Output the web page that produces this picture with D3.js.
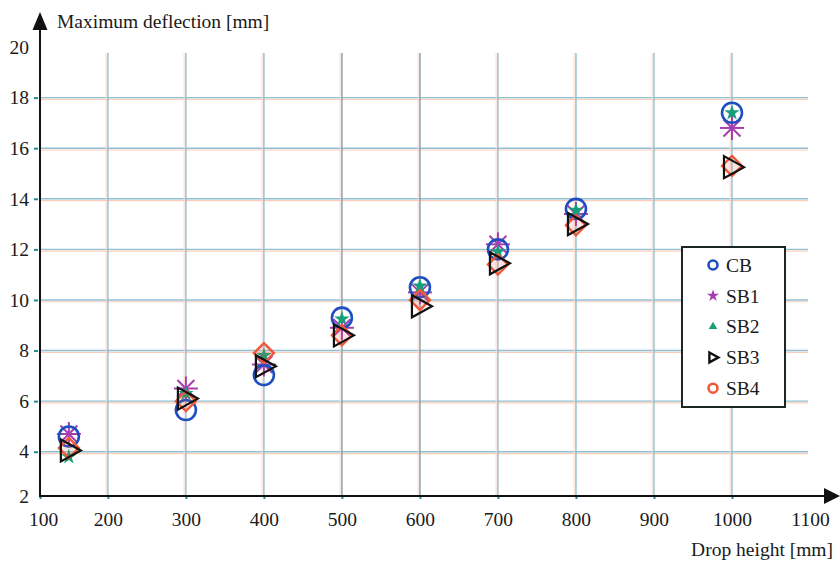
<!DOCTYPE html>
<html>
<head>
<meta charset="utf-8">
<script src="https://cdn.jsdelivr.net/npm/d3@7"></script>
<style>
  html, body { margin: 0; padding: 0; background: #fff; }
  svg { display: block; }
  text { font-family: "Liberation Serif", "Times New Roman", serif; fill: #1a1a1a; }
</style>
</head>
<body>
<svg id="chart" width="840" height="561"></svg>
<script>
// ---- data ----
const dropHeights = [150, 300, 400, 500, 600, 700, 800, 1000];
const seriesNames = ["CB", "SB1", "SB2", "SB3", "SB4"];
const CB  = [4.6, 5.65, 7.03, 9.3, 10.5, 12.0, 13.6, 17.4];
const SB1 = [4.7, 6.5, 7.45, 8.9, 10.3, 12.2, 13.4, 16.8];
const SB2 = [3.8, 6.3, 7.8, 9.25, 10.55, 11.9, 13.55, 17.4];
const SB3 = [4.05, 6.1, 7.38, 8.6, 9.75, 11.45, 13.0, 15.25];
const SB4 = [4.15, 6.0, 7.9, 8.6, 10.0, 11.4, 12.95, 15.3];
const xTicks = [100, 200, 300, 400, 500, 600, 700, 800, 900, 1000, 1100];
const yTicks = [2, 4, 6, 8, 10, 12, 14, 16, 18, 20];
const xGrid = [200, 300, 400, 500, 600, 700, 800, 900, 1000];
const yGrid = [4, 6, 8, 10, 12, 14, 16, 18];
const xLabel = "Drop height [mm]";
const yLabel = "Maximum deflection [mm]";

const valuesBy = { CB, SB1, SB2, SB3, SB4 };
const colors = { CB: "#1f4fbf", SB1: "#a63fae", SB2: "#16a07a", SB3: "#111111", SB4: "#f0583a" };

const svg = d3.select("#chart");
const x0 = 40, y0 = 496;
const xs = d3.scaleLinear().domain([113, 1100]).range([x0, 810]).clamp(true);
const ys = d3.scaleLinear().domain([2.25, 20]).range([y0, 47]).clamp(true);

// ---- grid ----
const grid = svg.append("g");
yGrid.forEach(v => {
  grid.append("line").attr("x1", x0).attr("x2", 808)
    .attr("y1", ys(v) + 1.8).attr("y2", ys(v) + 1.8)
    .attr("stroke", "#f9cdbb").attr("stroke-width", 1.2);
  grid.append("line").attr("x1", x0).attr("x2", 808)
    .attr("y1", ys(v)).attr("y2", ys(v))
    .attr("stroke", "#8fbfd0").attr("stroke-width", 1.4);
});
xGrid.forEach(v => {
  grid.append("line").attr("x1", xs(v) - 1.8).attr("x2", xs(v) - 1.8)
    .attr("y1", y0).attr("y2", 53)
    .attr("stroke", "#fbd9cc").attr("stroke-width", 1);
  grid.append("line").attr("x1", xs(v)).attr("x2", xs(v))
    .attr("y1", y0).attr("y2", 53)
    .attr("stroke", (v === 500 || v === 600) ? "#7f9eab" : "#8fbfd0").attr("stroke-width", 1.4);
});

// ---- axes ----
const xAxis = d3.axisBottom(xs).tickValues(xTicks).tickSize(3).tickPadding(13).tickFormat(d3.format("d"));
const yAxis = d3.axisLeft(ys).tickValues(yTicks).tickSize(4).tickPadding(7).tickFormat(d3.format("d"));

const gx = svg.append("g").attr("transform", `translate(0,${y0})`).call(xAxis);
const gy = svg.append("g").attr("transform", `translate(${x0},0)`).call(yAxis);
[gx, gy].forEach(g => {
  g.select(".domain").remove();
  g.selectAll(".tick line").attr("stroke", "#1f8a9a").attr("stroke-width", 2);
  g.selectAll(".tick text").style("font-family", "Liberation Serif, serif")
    .style("font-size", "19.5px").attr("fill", "#1a1a1a");
});
gx.selectAll(".tick").filter(d => d === 100).select("text").attr("x", 3);
gx.selectAll(".tick").filter(d => d === 1100).select("line").remove();
gy.selectAll(".tick").filter(d => d === 20 || d === 2).select("line").remove();
gy.selectAll(".tick line").attr("transform", "translate(-2,0)");

// axis lines with arrows
svg.append("line").attr("x1", x0).attr("x2", 826).attr("y1", y0).attr("y2", y0)
  .attr("stroke", "#111").attr("stroke-width", 2);
svg.append("line").attr("x1", x0).attr("x2", x0).attr("y1", y0 + 1).attr("y2", 28)
  .attr("stroke", "#111").attr("stroke-width", 2);
svg.append("path").attr("d", "M840,496 L824,488 L824,504 Z").attr("fill", "#111");
svg.append("path").attr("d", "M40,12 L32.5,30 L47.5,30 Z").attr("fill", "#111");

// axis titles
svg.append("text").attr("x", 57).attr("y", 28).style("font-size", "19.5px").text(yLabel);
svg.append("text").attr("x", 833).attr("y", 556).attr("text-anchor", "end").style("font-size", "19.5px").text(xLabel);

// ---- markers ----
function drawMarker(g, name, cx, cy, big) {
  const s = big ? 1 : 0.45;
  const c = colors[name];
  if (name === "CB") {
    g.append("circle").attr("cx", cx).attr("cy", cy).attr("r", big ? 10 : 4.5)
      .attr("fill", "none").attr("stroke", c).attr("stroke-width", big ? 2.6 : 2.6);
  } else if (name === "SB1") {
    if (big) {
      const r = 12;
      for (let k = 0; k < 4; k++) {
        const a = k * Math.PI / 4;
        g.append("line").attr("x1", cx - r * Math.cos(a)).attr("y1", cy - r * Math.sin(a))
          .attr("x2", cx + r * Math.cos(a)).attr("y2", cy + r * Math.sin(a))
          .attr("stroke", c).attr("stroke-width", 2);
      }
    } else {
      g.append("path").attr("transform", `translate(${cx},${cy})`)
        .attr("d", d3.symbol(d3.symbolStar, 45)()).attr("fill", c);
    }
  } else if (name === "SB2") {
    g.append("path").attr("transform", `translate(${cx},${cy})`)
      .attr("d", big ? d3.symbol(d3.symbolStar, 75)() : d3.symbol(d3.symbolTriangle, 32)())
      .attr("fill", c);
  } else if (name === "SB3") {
    const w = 20 * s, h = 22 * s;
    g.append("path")
      .attr("d", `M${cx - w * 0.4},${cy - h / 2} L${cx + w * 0.6},${cy} L${cx - w * 0.4},${cy + h / 2} Z`)
      .attr("fill", "none").attr("stroke", c).attr("stroke-width", big ? 2.2 : 2.4)
      .attr("stroke-linejoin", "miter");
  } else if (name === "SB4") {
    if (big) {
      const r = 10;
      g.append("path")
        .attr("d", `M${cx},${cy - r} L${cx + r},${cy} L${cx},${cy + r} L${cx - r},${cy} Z`)
        .attr("fill", "rgba(240,88,58,0.15)").attr("stroke", c).attr("stroke-width", 2.4);
    } else {
      g.append("circle").attr("cx", cx).attr("cy", cy).attr("r", 4.5)
        .attr("fill", "none").attr("stroke", c).attr("stroke-width", 2.6);
    }
  }
}

const plotOrder = ["SB1", "CB", "SB2", "SB4", "SB3"];
const pts = svg.append("g");
plotOrder.forEach(name => {
  const vals = valuesBy[name];
  const sg = pts.append("g").attr("class", "series-" + name);
  dropHeights.forEach((h, i) => {
    drawMarker(sg, name, xs(h), ys(vals[i]), true);
  });
});

// ---- legend ----
const lg = svg.append("g");
lg.append("rect").attr("x", 682).attr("y", 247).attr("width", 103).attr("height", 160)
  .attr("fill", "#fff").attr("stroke", "#1c2626").attr("stroke-width", 2);
seriesNames.forEach((name, i) => {
  const cy = 265 + i * 30.8;
  drawMarker(lg, name, 713, cy, false);
  lg.append("text").attr("x", 726).attr("y", cy).attr("dy", "0.35em")
    .style("font-size", "19.5px").text(name);
});
</script>
</body>
</html>
